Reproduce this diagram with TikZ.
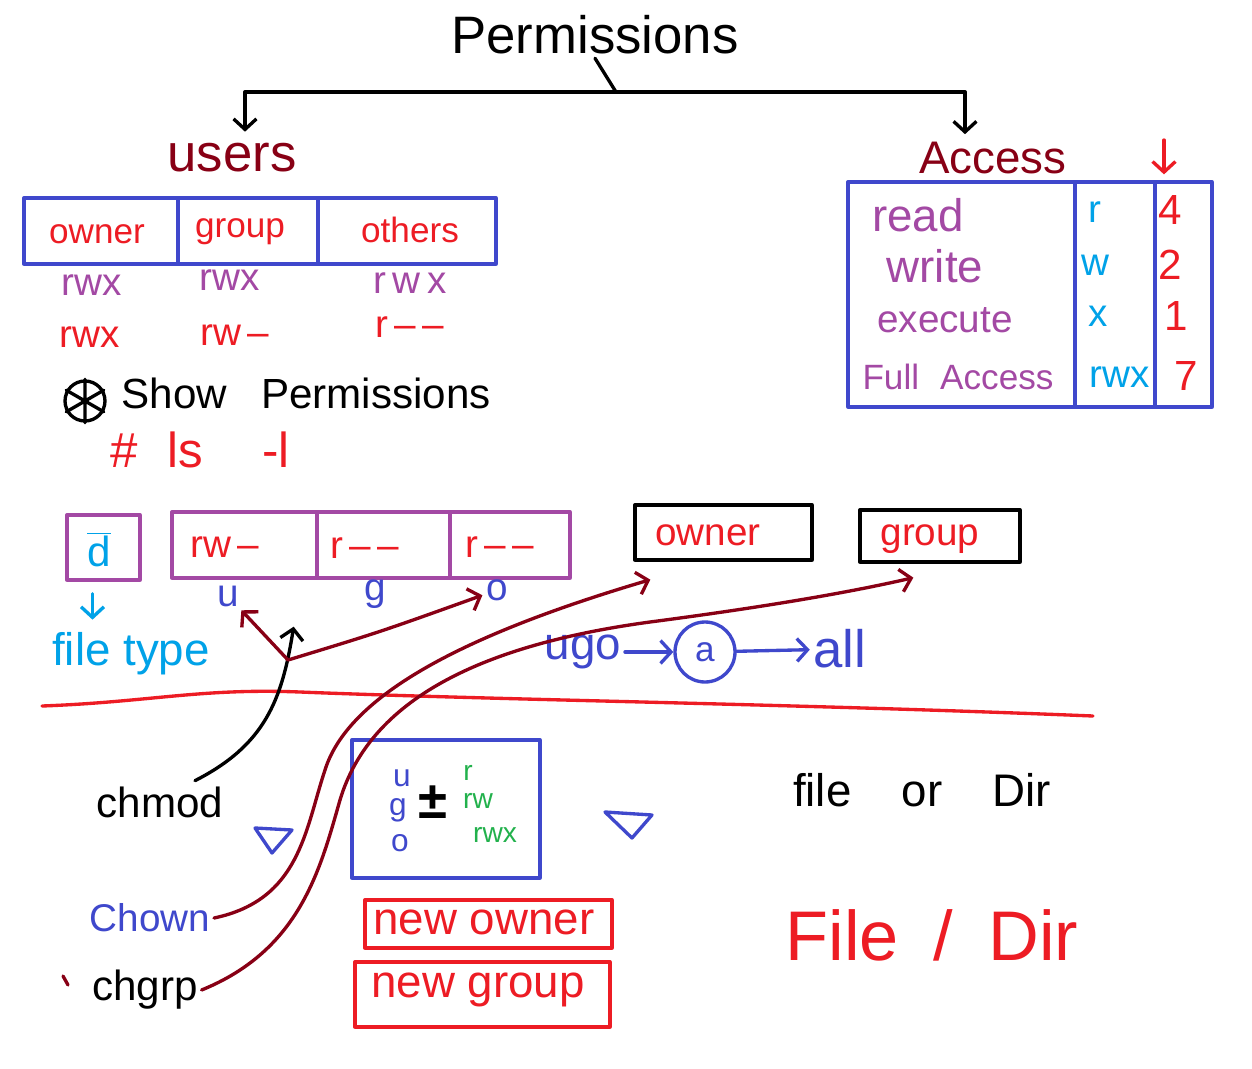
\documentclass[tikz,border=0pt]{standalone}
\usepackage{fontspec}
\setmainfont{Liberation Sans}
\usetikzlibrary{arrows.meta,calc}
\definecolor{pblue}{HTML}{3F48CC}
\definecolor{pred}{HTML}{ED1C24}
\definecolor{ppurple}{HTML}{A349A4}
\definecolor{pdark}{HTML}{880015}
\definecolor{pcyan}{HTML}{00A2E8}
\definecolor{pgreen}{HTML}{22B14C}
\newcommand\hsz[1]{\fontsize{#1pt}{#1pt}\selectfont}
\tikzset{
  hand/.style={line width=1.9pt, line cap=round, line join=round},
  cellbox/.style={draw, hand, rectangle, inner sep=0pt},
  lbl/.style={inner sep=2pt},
  arr/.style={hand, -{Straight Barb[length=6pt,width=13pt]}},
}
\begin{document}
\begin{tikzpicture}[x=0.02cm,y=-0.02cm]
\useasboundingbox[fill=white] (0,0) rectangle (1252,1069);

% ---- title and fork
\node[lbl] (title) at (595,35) {\hsz{30}Permissions};
\node[lbl, text=pdark] (users) at (232,158) {\hsz{30}users};
\node[lbl, text=pdark] (access) at (993,158) {\hsz{26}Access};
\coordinate (fork) at (616,92);
\draw[hand] (title.south) -- (fork);
\draw[arr] (fork) -| ($(users.north)+(13,-8)$);
\draw[arr] (fork) -| ($(access.north)+(-28,-4)$);

% ---- users table
\begin{scope}[pblue]
\node[cellbox, minimum width=3.08cm, minimum height=1.32cm] (cowner) at (101,231) {};
\node[cellbox, minimum width=2.80cm, minimum height=1.32cm] (cgroup) at (248,231) {};
\node[cellbox, minimum width=3.56cm, minimum height=1.32cm] (cothers) at (407,231) {};
\end{scope}
\node[lbl, text=pred] (towner) at (97,234) {\hsz{20}owner};
\node[lbl, text=pred] (tgroup) at (240,232) {\hsz{20}group};
\node[lbl, text=pred] (tothers) at (410,230) {\hsz{20}others};
\node[lbl, text=ppurple] (p1) at (92,285) {\hsz{22}rwx};
\node[lbl, text=ppurple] (p2) at (230,280) {\hsz{22}rwx};
\node[lbl, text=ppurple] (p3) at (410,283) {\hsz{22}r\,w\,x};
\node[lbl, text=pred] (q1) at (90,337) {\hsz{22}rwx};
\node[lbl, text=pred] (q2) at (235,335) {\hsz{22}rw\,–};
\node[lbl, text=pred] (q3) at (410,327) {\hsz{22}r\,–\,–};

% ---- show permissions
\node[circle, draw, hand, minimum size=0.8cm, inner sep=0pt] (star) at (85,401) {};
\draw[hand] (star.90) -- (star.270) (star.30) -- (star.210) (star.150) -- (star.330);
\node[lbl, anchor=west] (show) at (118,393) {\hsz{24}Show\hspace{0.8em}Permissions};
\node[lbl, text=pred] (lscmd) at (200,450) {\hsz{28}\#\hspace{0.6em}ls\hspace{1.2em}-l};

% ---- access table
\begin{scope}[pblue]
\node[cellbox, minimum width=4.54cm, minimum height=4.5cm] (col1) at (961.5,294.5) {};
\node[cellbox, minimum width=1.60cm, minimum height=4.5cm] (col2) at (1115,294.5) {};
\node[cellbox, minimum width=1.14cm, minimum height=4.5cm] (col3) at (1183.5,294.5) {};
\end{scope}
\node[lbl, text=ppurple] (read) at (918,215) {\hsz{26}read};
\node[lbl, text=ppurple] (write) at (935,266) {\hsz{26}write};
\node[lbl, text=ppurple] (exec) at (945,320) {\hsz{22}execute};
\node[lbl, text=ppurple] (full) at (958,377) {\hsz{20}Full\hspace{0.6em}Access};
\node[lbl, text=pcyan] (ar) at (1095,212) {\hsz{22}r};
\node[lbl, text=pcyan] (aw) at (1095,265) {\hsz{22}w};
\node[lbl, text=pcyan] (ax) at (1098,316) {\hsz{22}x};
\node[lbl, text=pcyan] (arwx) at (1120,377) {\hsz{22}rwx};
\node[lbl, text=pred] (n4) at (1170,210) {\hsz{24}4};
\node[lbl, text=pred] (n2) at (1170,265) {\hsz{24}2};
\node[lbl, text=pred] (n1) at (1176,316) {\hsz{24}1};
\node[lbl, text=pred] (n7) at (1186,376) {\hsz{24}7};
\coordinate (numtop) at (1164,140);
\draw[arr, pred] (numtop) -- ($(numtop |- col3.north)+(0,-6)$);

% ---- permission string
\node[cellbox, ppurple, minimum width=1.46cm, minimum height=1.30cm] (dbox) at (103.5,547.5) {};
\node[lbl, text=pcyan] (dtxt) at (99,550) {\hsz{24}$\overline{\textrm{d}}$};
\begin{scope}[ppurple]
\node[cellbox, minimum width=2.90cm, minimum height=1.32cm] (pc1) at (244.5,545) {};
\node[cellbox, minimum width=2.66cm, minimum height=1.32cm] (pc2) at (383.5,545) {};
\node[cellbox, minimum width=2.40cm, minimum height=1.32cm] (pc3) at (510,545) {};
\end{scope}
\node[lbl, text=pred] (s1) at (225,547) {\hsz{22}rw\,–};
\node[lbl, text=pred] (s2) at (365,548) {\hsz{22}r\,–\,–};
\node[lbl, text=pred] (s3) at (500,547) {\hsz{22}r\,–\,–};
\node[lbl, text=pblue] (ulbl) at (228,596) {\hsz{22}u};
\node[lbl, text=pblue] (glbl) at (375,594) {\hsz{22}g};
\node[lbl, text=pblue] (olbl) at (497,590) {\hsz{22}o};
\node[lbl, text=pcyan] (ftype) at (131,654) {\hsz{26}file type};
\draw[arr, pcyan] ($(dbox.south)+(-11,12)$) -- ($(dbox.south)+(-11,38)$);

% ---- owner / group boxes
\node[cellbox, minimum width=3.54cm, minimum height=1.10cm] (ownerbox) at (723.5,532.5) {};
\node[lbl, text=pred] (townerb) at (708,535) {\hsz{22}owner};
\node[cellbox, minimum width=3.20cm, minimum height=1.04cm] (groupbox) at (940,536) {};
\node[lbl, text=pred] (tgroupb) at (930,539) {\hsz{22}group};

% ---- ugo -> a -> all
\node[lbl, text=pblue] (ugo) at (583,652) {\hsz{26}ugo};
\node[circle, draw=pblue, hand, minimum size=1.2cm, inner sep=0pt, text=pblue] (acirc) at (705,652) {\hsz{20}a};
\node[lbl, text=pblue] (all) at (840,649) {\hsz{30}all};
\draw[arr, pblue] (ugo) -- (acirc);
\draw[arr, pblue] (acirc) -- (all);

% ---- separator
\draw[hand, pred] (42,706) .. controls (150,702) and (200,688) .. (300,692)
      .. controls (500,700) and (800,704) .. (1093,716);

% ---- commands
\node[lbl] (chmod) at (160,802) {\hsz{24}chmod};
\node[lbl, text=pblue] (chown) at (150,918) {\hsz{22}Chown};
\node[lbl] (chgrp) at (145,990) {\hsz{24}chgrp};
\draw[hand, pdark] (63,976) -- (68,985);

% funnels
\draw[hand, pblue] (255,828) -- (292,830) -- (272,853) -- cycle;
\draw[hand, pblue] (605,812) -- (652,815) -- (632,838) -- cycle;

% blue box
\node[cellbox, pblue, minimum width=3.76cm, minimum height=2.76cm] (bluebox) at (446,809) {};
\node[inner sep=0pt, text=pblue] (bu) at (402,778) {\hsz{18}u};
\node[inner sep=0pt, text=pblue] (bg) at (398,810) {\hsz{18}g};
\node[inner sep=0pt, text=pblue] (bo) at (400,843) {\hsz{18}o};
\node[inner sep=0pt] (pm) at (433,802) {\hsz{30}\textbf{±}};
\node[inner sep=0pt, text=pgreen] (gr) at (468,773) {\hsz{16}r};
\node[inner sep=0pt, text=pgreen] (grw) at (478,801) {\hsz{16}rw};
\node[inner sep=0pt, text=pgreen] (grwx) at (495,835) {\hsz{16}rwx};

\node[lbl] (fileordir) at (922,790) {\hsz{26}file\hspace{1.1em}or\hspace{1.1em}Dir};

% red boxes
\node[cellbox, pred, minimum width=4.94cm, minimum height=0.96cm] (newowner) at (488.5,924) {};
\node[lbl, text=pred] (tnewowner) at (484,922) {\hsz{26}new owner};
\node[cellbox, pred, minimum width=5.10cm, minimum height=1.30cm] (newgroup) at (482.5,994.5) {};
\node[lbl, text=pred] (tnewgroup) at (478,990) {\hsz{26}new group};

\node[lbl, text=pred] (filedir) at (932,935) {\hsz{40}File\hspace{0.5em}/\hspace{0.5em}Dir};

% ---- connectors
\coordinate (hub) at (288,660);
\draw[arr] ($(chmod.north)+(35,-2)$) .. controls (265,745) and (282,700) .. ($(pc1.south east)+(-25,47)$);
\draw[arr, pdark] (hub) -- (ulbl);
\draw[arr, pdark] (hub) .. controls (380,632) .. (olbl);
\coordinate (owin) at ($(ownerbox.south west)+(17,18)$);
\coordinate (grin) at ($(groupbox.south west)+(55,14)$);
\draw[arr, pdark] (chown.east) .. controls (300,900) and (305,830) .. (325,770)
      .. controls (350,690) and (480,630) .. (owin);
\draw[arr, pdark] (chgrp.east) .. controls (300,950) and (320,870) .. (340,800)
      .. controls (370,700) and (480,645) .. (650,622)
      .. controls (780,605) and (860,590) .. (grin);
\end{tikzpicture}
\end{document}
